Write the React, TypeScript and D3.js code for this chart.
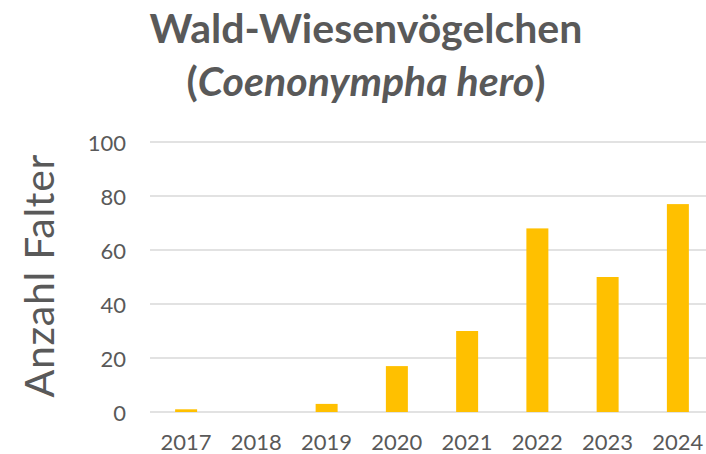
import { useEffect, useRef } from "react";
import * as d3 from "d3";

const years = ["2017", "2018", "2019", "2020", "2021", "2022", "2023", "2024"];
const counts = [1, 0, 3, 17, 30, 68, 50, 77];
const yTicks = [0, 20, 40, 60, 80, 100];

const W = 706, H = 454;
const FONT = "Lato, 'Open Sans', sans-serif";
const TEXT = "#595959";

export default function App() {
  const svgRef = useRef<SVGSVGElement>(null);

  useEffect(() => {
    if (!svgRef.current) return;
    const svg = d3.select(svgRef.current);
    svg.selectAll("*").remove();

    const x = d3.scaleBand<string>().domain(years).range([151, 713]).paddingInner(0.687).paddingOuter(0.3435);
    const y = d3.scaleLinear().domain([0, 100]).range([412, 142]);

    /* title */
    const t = svg.append("text").attr("text-anchor", "middle")
      .attr("font-family", FONT).attr("font-weight", 700).attr("font-size", 41).attr("fill", TEXT);
    t.append("tspan").attr("x", 366).attr("y", 43).text("Wald-Wiesenvögelchen");
    const l2 = t.append("tspan").attr("x", 366).attr("y", 96);
    l2.append("tspan").text("(");
    l2.append("tspan").attr("font-style", "italic").text("Coenonympha hero");
    l2.append("tspan").text(")");

    /* grid */
    svg.append("g").selectAll("line").data(yTicks).join("line")
      .attr("x1", 150).attr("x2", W)
      .attr("y1", d => y(d)).attr("y2", d => y(d))
      .attr("stroke", "#D9D9D9").attr("stroke-width", 1.5);

    /* y tick labels */
    svg.append("g").selectAll("text").data(yTicks).join("text")
      .attr("x", 126).attr("y", d => y(d) + 1).attr("dy", "0.35em")
      .attr("text-anchor", "end").attr("font-family", FONT).attr("font-size", 22).attr("fill", TEXT)
      .text(d => d);

    /* bars */
    svg.append("g").selectAll("rect").data(counts).join("rect")
      .attr("x", (_, i) => x(years[i])!)
      .attr("width", x.bandwidth())
      .attr("y", d => y(d))
      .attr("height", d => y(0) - y(d))
      .attr("fill", "#FFC000");

    /* x labels */
    svg.append("g").selectAll("text").data(years).join("text")
      .attr("x", d => x(d)! + x.bandwidth() / 2).attr("y", 450)
      .attr("text-anchor", "middle").attr("font-family", FONT).attr("font-size", 22).attr("fill", TEXT)
      .text(d => d);

    /* y axis title */
    svg.append("text")
      .attr("transform", "translate(54,276) rotate(-90)")
      .attr("text-anchor", "middle").attr("font-family", FONT).attr("font-size", 41).attr("fill", TEXT)
      .attr("textLength", 243).attr("lengthAdjust", "spacing")
      .text("Anzahl Falter");
  }, []);

  return (
    <svg ref={svgRef} width={W} height={H}
      style={{ position: "absolute", left: 0, top: 0, display: "block", background: "#fff" }} />
  );
}
